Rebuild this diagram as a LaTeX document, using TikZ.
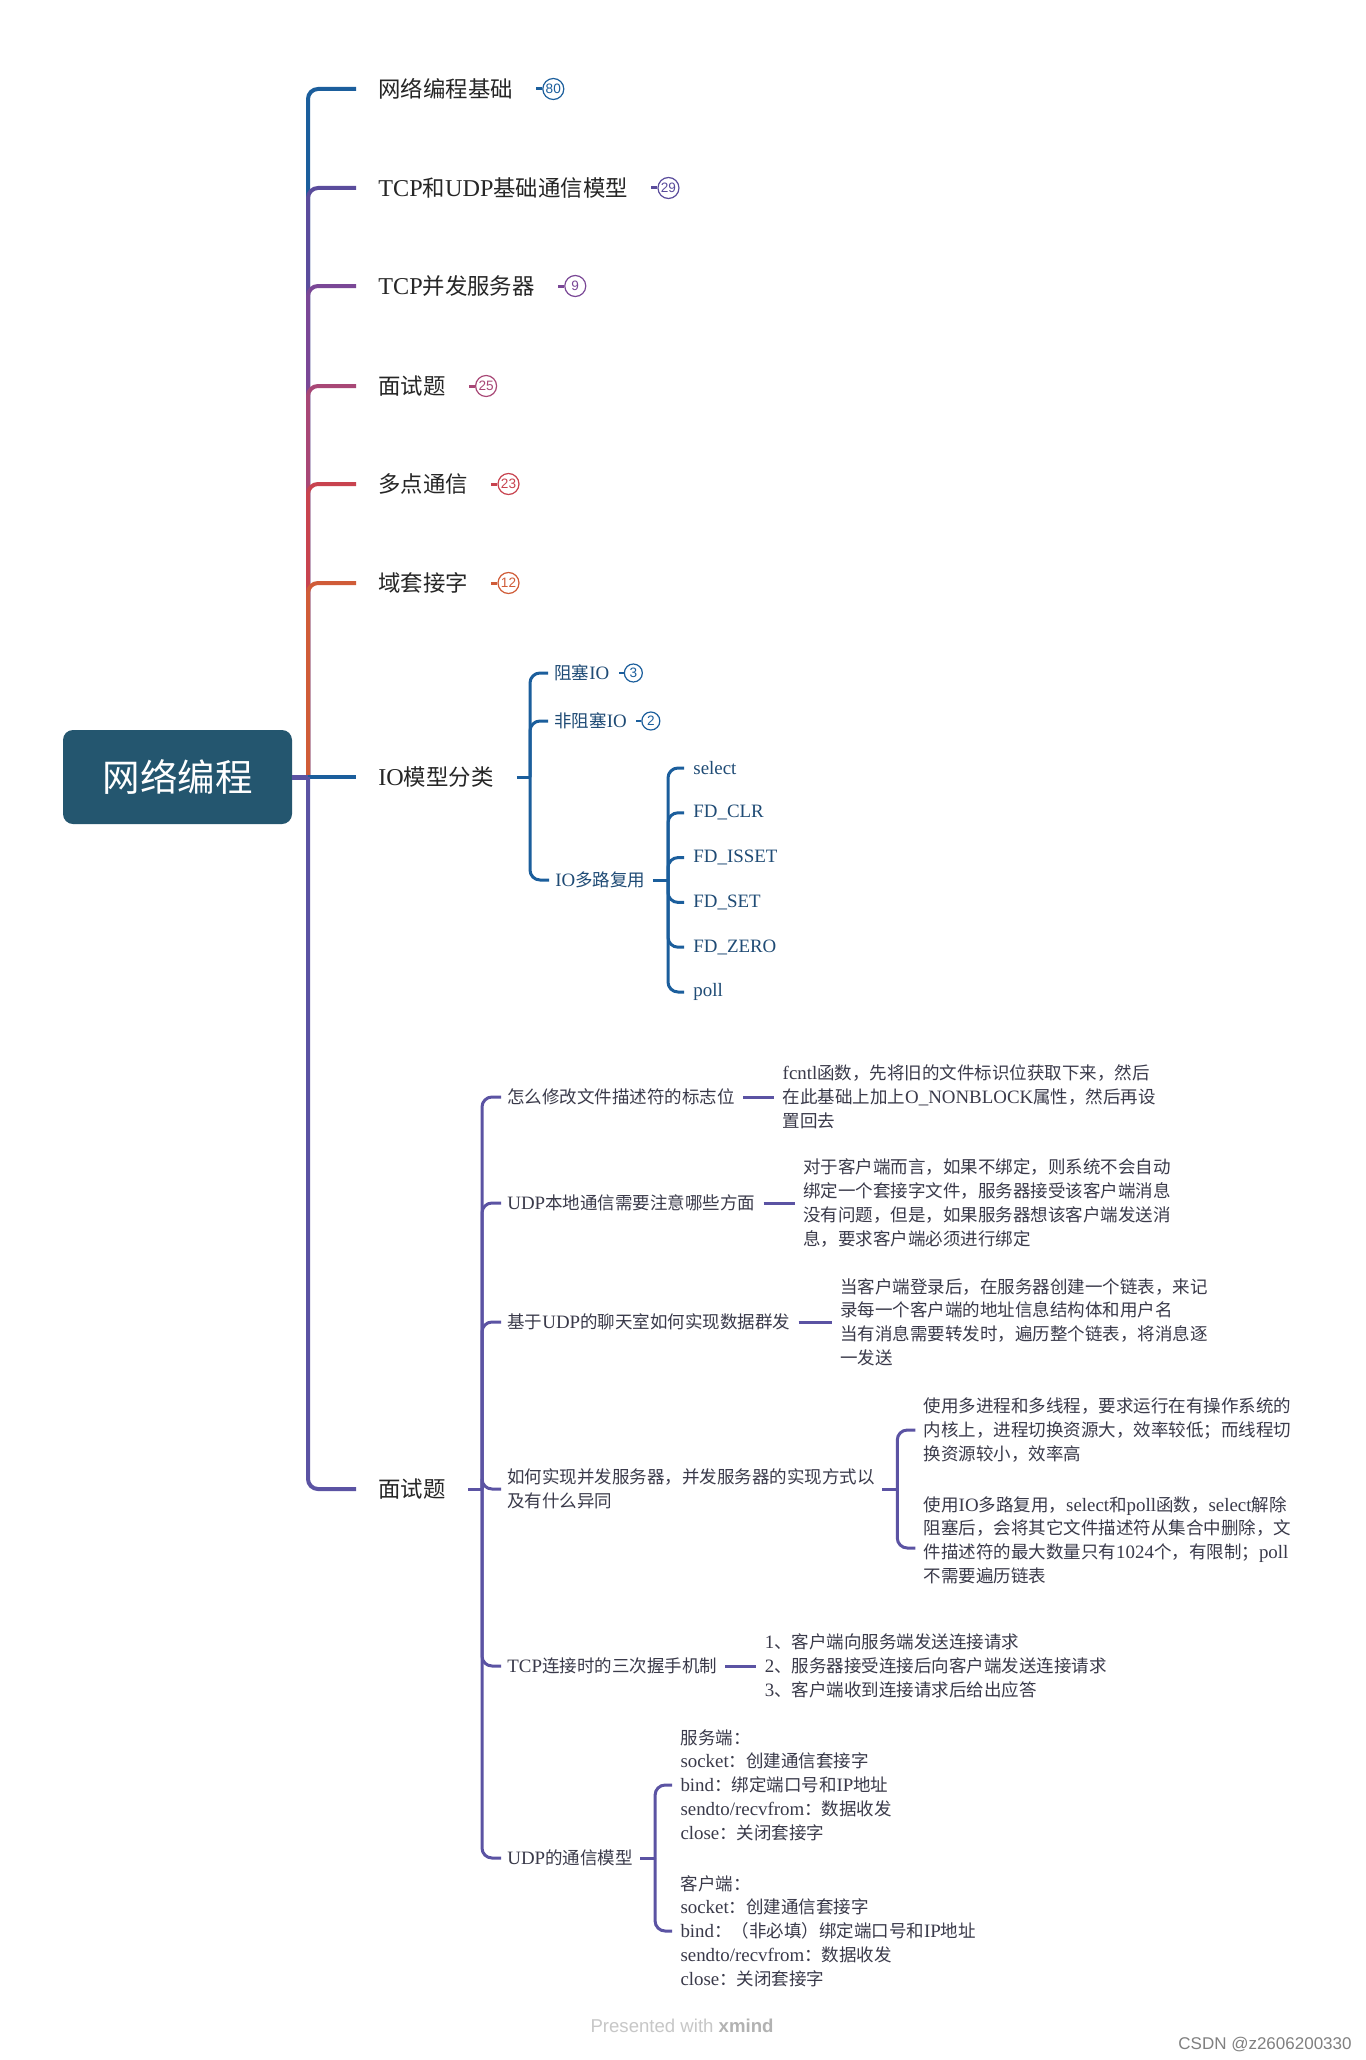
\documentclass[tikz,border=0pt]{standalone}
\usepackage{fontspec}
\setmainfont{Liberation Serif}[Scale=1.08]
\setsansfont{Liberation Sans}
\newfontfamily\cjkfont{Noto Sans CJK SC}
\usetikzlibrary{positioning,calc}

% switch to the CJK family for Chinese characters
\XeTeXinterchartokenstate=1
\newXeTeXintercharclass\cjkcls
\makeatletter
\def\setcjkrange#1#2{\count@=#1\relax
  \loop\ifnum\count@<#2\relax \XeTeXcharclass\count@=\cjkcls \advance\count@\@ne \repeat}
\setcjkrange{"3000}{"3040}
\setcjkrange{"4E00}{"A000}
\setcjkrange{"FF00}{"FF60}
\makeatother
\def\latinfont{\rmfamily}
\XeTeXinterchartoks 0 \cjkcls = {\cjkfont}
\XeTeXinterchartoks 4095 \cjkcls = {\cjkfont}
\XeTeXinterchartoks \cjkcls 0 = {\latinfont}
\XeTeXinterchartoks 4095 0 = {\latinfont}

\definecolor{rootfill}{HTML}{24566F}
\definecolor{cblue}{HTML}{1B5E9C}
\definecolor{cindigo}{HTML}{5A4C9C}
\definecolor{cpurple}{HTML}{7A4796}
\definecolor{cmagenta}{HTML}{A84776}
\definecolor{cred}{HTML}{C8434F}
\definecolor{corange}{HTML}{D05C38}
\definecolor{cviolet}{HTML}{5B53A3}
\definecolor{maintext}{HTML}{262626}
\definecolor{iotext}{HTML}{1F4B75}
\definecolor{subtext}{HTML}{3A3A4A}

\tikzset{
    rootbox/.style={fill=rootfill, rounded corners=5pt, minimum width=114.5pt, minimum height=47pt, text=white, font=\fontsize{18.75pt}{20pt}\selectfont},
    maintopic/.style={anchor=west, inner sep=0pt, text=maintext, font=\fontsize{11.2pt}{13pt}\selectfont},
    subtopic/.style={anchor=west, inner sep=0pt, align=left, font=\fontsize{8.75pt}{11.9pt}\selectfont},
    iotopic/.style={subtopic, text=iotext},
    qtopic/.style={subtopic, text=subtext},
    badge/.style={draw, circle, inner sep=0pt, minimum size=10.5pt, line width=0.6pt, font={\def\latinfont{\sffamily}\sffamily\fontsize{6.8pt}{6.8pt}\selectfont}},
    iobadge/.style={badge, minimum size=9pt},
    branch/.style={line width=2pt, rounded corners=5pt},
    twig/.style={line width=1.5pt, rounded corners=5pt},
    footmark/.style={inner sep=0pt, font={\def\latinfont{\sffamily}\sffamily\fontsize{8.5pt}{10pt}\selectfont}}
}

\begin{document}
\begin{tikzpicture}[x=0.5pt, y=-0.5pt]
\fill[white] (0,0) rectangle (1365,2060);
\useasboundingbox (0,0) rectangle (1365,2060);

% root and first level
\node[rootbox] (root) at (177.5,777) {网络编程};
\coordinate (hub) at (308,777);
\node[maintopic] (basic) at (378,89) {网络编程基础};
\node[maintopic] (model) at (378,188) {TCP和UDP基础通信模型};
\node[maintopic] (conc) at (378,286) {TCP并发服务器};
\node[maintopic] (quiz) at (378,386) {面试题};
\node[maintopic] (multi) at (378,484) {多点通信};
\node[maintopic] (unix) at (378,583) {域套接字};
\node[maintopic] (iomodel) at (378,777) {IO模型分类};
\node[maintopic] (interview) at (378,1489) {面试题};

\foreach \nd/\col in {basic/cblue, model/cindigo, conc/cpurple, quiz/cmagenta, multi/cred, unix/corange}
  \draw[branch, color=\col] (hub) |- ([xshift=-11pt]\nd.west);
\draw[branch, cblue] (hub) -- ([xshift=-11pt]iomodel.west);
\draw[branch, cviolet] (hub) |- ([xshift=-11pt]interview.west);
\draw[cviolet, line width=2.5pt] (root.east) -- (hub);

\foreach \nd/\num/\col in {basic/80/cblue, model/29/cindigo, conc/9/cpurple, quiz/25/cmagenta, multi/23/cred, unix/12/corange} {
  \node[badge, color=\col, right=14.5pt of \nd] (n\nd) {\num};
  \draw[color=\col, line width=1.5pt] (n\nd.west) -- ++(-3pt,0);
}

% IO models
\node[iotopic] (block) at (554,673) {阻塞IO};
\node[iotopic] (nonblock) at (554,721) {非阻塞IO};
\node[iotopic] (mux) at (555,880) {IO多路复用};
\coordinate (iohub) at (530,777);
\draw[twig, cblue] ([xshift=11.5pt]iomodel.east) -- (iohub);
\foreach \k in {block,nonblock,mux}
  \draw[twig, cblue] (iohub) |- ([xshift=-3pt]\k.west);
\node[iobadge, cblue, right=7pt of block] (nblock) {3};
\node[iobadge, cblue, right=7pt of nonblock] (nnonblock) {2};
\draw[cblue, line width=1.2pt] (nblock.west) -- ++(-2.5pt,0);
\draw[cblue, line width=1.2pt] (nnonblock.west) -- ++(-2.5pt,0);

\coordinate (muxhub) at (668,880);
\draw[twig, cblue] ([xshift=3.5pt]mux.east) -- (muxhub);
\foreach \t [count=\i] in {select, FD\_CLR, FD\_ISSET, FD\_SET, FD\_ZERO, poll} {
  \node[iotopic] (fd\i) at (693,{768+44.8*(\i-1)}) {\t};
  \draw[twig, cblue] (muxhub) |- ([xshift=-4.5pt]fd\i.west);
}

% interview questions
\coordinate (qhub) at (482,1489);
\draw[twig, cviolet] ([xshift=11pt]interview.east) -- (qhub);
\node[qtopic] (qa) at (507,1097) {怎么修改文件描述符的标志位};
\node[qtopic] (qb) at (507,1203) {UDP本地通信需要注意哪些方面};
\node[qtopic] (qc) at (507,1322) {基于UDP的聊天室如何实现数据群发};
\node[qtopic] (qd) at (507,1489) {如何实现并发服务器，并发服务器的实现方式以\\及有什么异同};
\node[qtopic] (qe) at (507,1666) {TCP连接时的三次握手机制};
\node[qtopic] (qf) at (507,1858) {UDP的通信模型};
\foreach \k in {qa,qb,qc,qd,qe,qf}
  \draw[twig, cviolet] (qhub) |- ([xshift=-3pt]\k.west);

\node[qtopic, right=23.5pt of qa] (qa1) {fcntl函数，先将旧的文件标识位获取下来，然后\\在此基础上加上O\_NONBLOCK属性，然后再设\\置回去};
\node[qtopic, right=23.5pt of qb] (qb1) {对于客户端而言，如果不绑定，则系统不会自动\\绑定一个套接字文件，服务器接受该客户端消息\\没有问题，但是，如果服务器想该客户端发送消\\息，要求客户端必须进行绑定};
\node[qtopic, right=24.5pt of qc] (qc1) {当客户端登录后，在服务器创建一个链表，来记\\录每一个客户端的地址信息结构体和用户名\\当有消息需要转发时，遍历整个链表，将消息逐\\一发送};
\node[qtopic, right=23.5pt of qe] (qe1) {1、客户端向服务端发送连接请求\\2、服务器接受连接后向客户端发送连接请求\\3、客户端收到连接请求后给出应答};
\foreach \k in {qa,qb,qc,qe}
  \draw[twig, cviolet] ([xshift=4pt]\k.east) -- ([xshift=-4pt]\k1.west);

\node[qtopic, right=24pt of qd, yshift=29.5pt] (qd1) {使用多进程和多线程，要求运行在有操作系统的\\内核上，进程切换资源大，效率较低；而线程切\\换资源较小，效率高};
\node[qtopic, right=24pt of qd, yshift=-25.5pt] (qd2) {使用IO多路复用，select和poll函数，select解除\\阻塞后，会将其它文件描述符从集合中删除，文\\件描述符的最大数量只有1024个，有限制；poll\\不需要遍历链表};
\coordinate (dhub) at ([xshift=11pt]qd.east);
\draw[twig, cviolet] ([xshift=3.5pt]qd.east) -- (dhub);
\draw[twig, cviolet] (dhub) |- ([xshift=-4pt]qd1.west);
\draw[twig, cviolet] (dhub) |- ([xshift=-4pt,yshift=-4pt]qd2.west);

\node[qtopic, right=23.5pt of qf, yshift=36.5pt] (qf1) {服务端：\\socket：创建通信套接字\\bind：绑定端口号和IP地址\\sendto/recvfrom：数据收发\\close：关闭套接字};
\node[qtopic, right=23.5pt of qf, yshift=-36.5pt] (qf2) {客户端：\\socket：创建通信套接字\\bind：（非必填）绑定端口号和IP地址\\sendto/recvfrom：数据收发\\close：关闭套接字};
\coordinate (fhub) at ([xshift=11pt]qf.east);
\draw[twig, cviolet] ([xshift=3.5pt]qf.east) -- (fhub);
\draw[twig, cviolet] (fhub) |- ([xshift=-4pt]qf1.west);
\draw[twig, cviolet] (fhub) |- ([xshift=-4pt]qf2.west);

% footer
\node[footmark, text=black!22, font={\def\latinfont{\sffamily}\sffamily\fontsize{9.3pt}{11pt}\selectfont}] (credit) at (682,2026) {Presented with \textbf{\color{black!30}xmind}};
\node[footmark, text=black!50] (mark) at (1265,2044) {CSDN @z2606200330};
\end{tikzpicture}
\end{document}
